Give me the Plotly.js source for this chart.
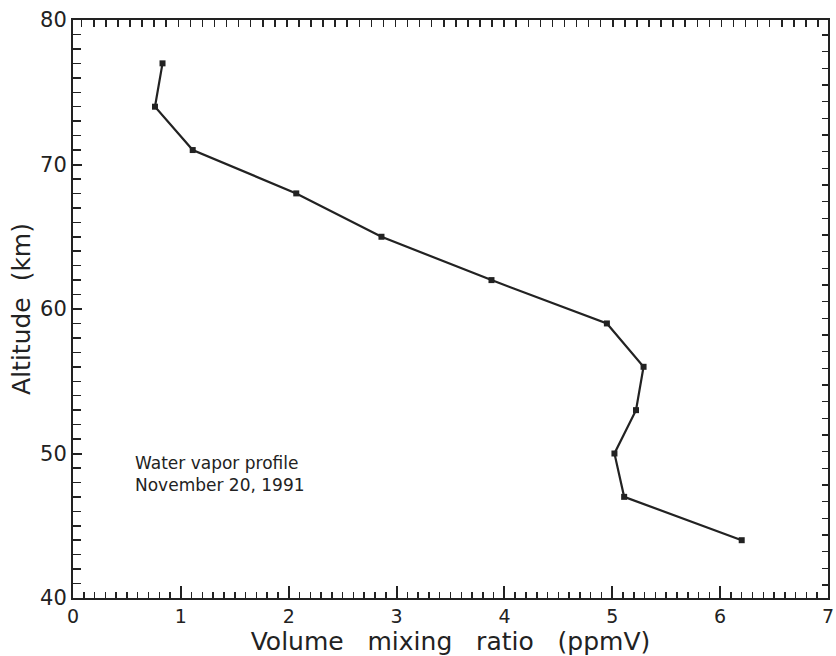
<!DOCTYPE html>
<html>
<head>
<meta charset="utf-8">
<script src="https://cdn.plot.ly/plotly-3.0.1.min.js"></script>
<style>html,body{margin:0;padding:0;background:#fff;}#chart{width:836px;height:656px;}</style>
</head>
<body>
<div id="chart"></div>
<script>
// Water vapor volume mixing ratio (ppmV) vs altitude (km)
const mixingRatio = [0.83, 0.76, 1.11, 2.07, 2.86, 3.88, 4.95, 5.29, 5.22, 5.02, 5.11, 6.20];
const altitude    = [77, 74, 71, 68, 65, 62, 59, 56, 53, 50, 47, 44];
const xTickVals = [0, 1, 2, 3, 4, 5, 6, 7];
const yTickVals = [40, 50, 60, 70, 80];
const noteLines = ["Water vapor profile", "November 20, 1991"];

const ink = '#222';
const font = "'DejaVu Sans', sans-serif";
const sp = '\u00A0\u00A0\u00A0';

const traces = [
  {
    x: mixingRatio, y: altitude, type: 'scatter', mode: 'lines+markers',
    line: {color: ink, width: 2.2},
    marker: {color: ink, size: 6, symbol: 'square'},
    showlegend: false, hoverinfo: 'skip'
  },
  {x: [], y: [], xaxis: 'x2', yaxis: 'y', type: 'scatter', showlegend: false, hoverinfo: 'skip'},
  {x: [], y: [], xaxis: 'x', yaxis: 'y2', type: 'scatter', showlegend: false, hoverinfo: 'skip'}
];

const layout = {
  width: 836, height: 656,
  margin: {l: 73, r: 8, t: 20, b: 58},
  paper_bgcolor: '#fff', plot_bgcolor: '#fff',
  font: {family: font, color: ink},
  xaxis: {
    range: [0, 7], tickvals: xTickVals, ticktext: xTickVals.map(String),
    ticks: 'inside', ticklen: 12, tickwidth: 2, tickcolor: ink,
    minor: {dtick: 0.1, tick0: 0, ticks: 'inside', ticklen: 6, tickwidth: 1.5, tickcolor: ink},
    showline: true, linecolor: ink, linewidth: 2, showgrid: false, zeroline: false,
    tickfont: {size: 19, family: font, color: ink},
    title: {text: 'Volume' + sp + 'mixing' + sp + 'ratio' + sp + '(ppmV)', font: {size: 25, family: font, color: ink}, standoff: 0},
    automargin: false,
    fixedrange: true
  },
  yaxis: {
    range: [40, 80], tickvals: yTickVals, ticktext: yTickVals.map(String),
    ticks: 'inside', ticklen: 9, tickwidth: 2, tickcolor: ink,
    minor: {dtick: 1, tick0: 40, ticks: 'inside', ticklen: 8, tickwidth: 1.5, tickcolor: ink},
    showline: true, linecolor: ink, linewidth: 2, showgrid: false, zeroline: false,
    tickfont: {size: 21, family: font, color: ink},
    title: {text: 'Altitude\u00A0\u00A0(km)', font: {size: 25, family: font, color: ink}, standoff: 2},
    automargin: false,
    fixedrange: true
  },
  xaxis2: {
    overlaying: 'x', side: 'top', anchor: 'y', range: [0, 62.55], tick0: 0.72, dtick: 1,
    ticks: 'inside', ticklen: 7, tickwidth: 1.5, tickcolor: ink,
    showticklabels: false, showline: true, linecolor: ink, linewidth: 2,
    showgrid: false, zeroline: false, fixedrange: true
  },
  yaxis2: {
    overlaying: 'y', side: 'right', anchor: 'x', range: [0, 34.68], tick0: 0.78, dtick: 1,
    ticks: 'inside', ticklen: 6, tickwidth: 1.5, tickcolor: ink,
    showticklabels: false, showline: true, linecolor: ink, linewidth: 2,
    showgrid: false, zeroline: false, fixedrange: true
  },
  annotations: [
    {xref: 'x', yref: 'y', x: 0.554, y: 48.55, xanchor: 'left', yanchor: 'middle',
     text: noteLines.join('<br>'), align: 'left', showarrow: false,
     font: {size: 17, family: font, color: ink}}
  ]
};

Plotly.newPlot('chart', traces, layout, {staticPlot: true, displayModeBar: false});
</script>
</body>
</html>
